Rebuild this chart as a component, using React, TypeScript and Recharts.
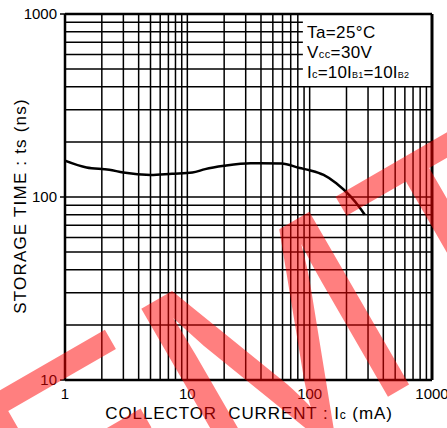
import React from 'react';
import { LineChart, Line, XAxis, YAxis, ReferenceLine } from 'recharts';

const current = [1, 1.5, 2.3, 3, 5, 7.5, 11, 14, 20, 33, 59, 83, 100, 130, 165, 215, 258, 282];
const storageTime = [158, 145, 141, 136, 132, 134, 136, 142, 148, 153, 152.5, 144, 140, 132, 119, 101, 87, 80];

const xTicks = [1, 10, 100, 1000];
const yTicks = [10, 100, 1000];
const xGridLow = [2, 3, 4, 5, 6, 7, 8, 9, 10, 20, 30, 40, 50, 60, 70, 80];
const xGridHigh = [90, 100, 200, 300, 400, 500, 600, 700, 800, 900];
const yGridLow = [20, 30, 40, 50, 60, 70, 80, 90, 100, 200, 300, 400];
const yGridHigh = [500, 600, 700, 800, 900];

const data = current.map((ic, i) => ({ ic, ts: storageTime[i] }));

const FONT = '"Liberation Sans", Arial, sans-serif';

export default function App() {
  return (
    <div style={{ position: 'absolute', left: 0, top: 0, width: 447, height: 428, background: '#fff' }}>
      <div style={{ position: 'absolute', left: 0, top: 0 }}>
        <LineChart width={447} height={428} data={data} margin={{ top: 14, right: 15, left: 15, bottom: 18 }}>
          <XAxis
            dataKey="ic"
            type="number"
            scale="log"
            domain={[1, 1000]}
            ticks={xTicks}
            allowDataOverflow
            axisLine={false}
            tickLine={false}
            height={30}
            interval={0}
            tick={{ fontSize: 15, fill: '#000', fontFamily: FONT }}
          />
          <YAxis
            type="number"
            scale="log"
            domain={[10, 1000]}
            ticks={yTicks}
            allowDataOverflow
            axisLine={false}
            tickLine={{ stroke: '#000', strokeWidth: 1.5 }}
            tickSize={5}
            tickMargin={3}
            width={50}
            interval={0}
            tick={{ fontSize: 15, fill: '#000', fontFamily: FONT }}
          />
          {xGridLow.map((v) => (
            <ReferenceLine key={'xl' + v} x={v} stroke="#000" strokeWidth={1.5} />
          ))}
          {xGridHigh.map((v) => (
            <ReferenceLine key={'xh' + v} segment={[{ x: v, y: 10 }, { x: v, y: 400 }]} stroke="#000" strokeWidth={1.5} />
          ))}
          {yGridLow.map((v) => (
            <ReferenceLine key={'yl' + v} y={v} stroke="#000" strokeWidth={1.5} />
          ))}
          {yGridHigh.map((v) => (
            <ReferenceLine key={'yh' + v} segment={[{ x: 1, y: v }, { x: 88, y: v }]} stroke="#000" strokeWidth={1.5} />
          ))}
          <ReferenceLine x={1} stroke="#000" strokeWidth={2.5} />
          <ReferenceLine x={1000} stroke="#000" strokeWidth={3} />
          <ReferenceLine y={10} stroke="#000" strokeWidth={2.5} />
          <ReferenceLine y={1000} stroke="#000" strokeWidth={2.5} />
          <Line
            dataKey="ts"
            type="monotone"
            stroke="#000"
            strokeWidth={2.5}
            dot={false}
            isAnimationActive={false}
          />
        </LineChart>
      </div>
      <svg
        width={447}
        height={428}
        style={{ position: 'absolute', left: 0, top: 0, pointerEvents: 'none' }}
      >
        <g fontFamily={FONT} fill="#000">
          <text x={307} y={38} fontSize={17} letterSpacing={0.4}>Ta=25°C</text>
          <text x={307} y={58} fontSize={17} letterSpacing={0.4}>
            V<tspan fontSize={11}>cc</tspan>=30V
          </text>
          <text x={307} y={78} fontSize={17} letterSpacing={0.2}>
            I<tspan fontSize={11}>c</tspan>=10I<tspan fontSize={9}>B1</tspan>=10I<tspan fontSize={9}>B2</tspan>
          </text>
          <text x={249} y={419} fontSize={17} letterSpacing={0.9} textAnchor="middle" style={{ whiteSpace: 'pre' }}>
            {'COLLECTOR  CURRENT : I'}<tspan fontSize={12}>c</tspan>{' (mA)'}
          </text>
          <text
            x={0}
            y={0}
            fontSize={17}
            letterSpacing={1.2}
            textAnchor="middle"
            transform="translate(26 206) rotate(-90)"
          >
            STORAGE TIME : ts (ns)
          </text>
        </g>
        <text
          x={214}
          y={465}
          textAnchor="middle"
          transform="rotate(-30 214 257)"
          fontSize={290}
          fontFamily={FONT}
          fill="#ff0000"
          fillOpacity={0.5}
        >
          EMT
        </text>
      </svg>
    </div>
  );
}
